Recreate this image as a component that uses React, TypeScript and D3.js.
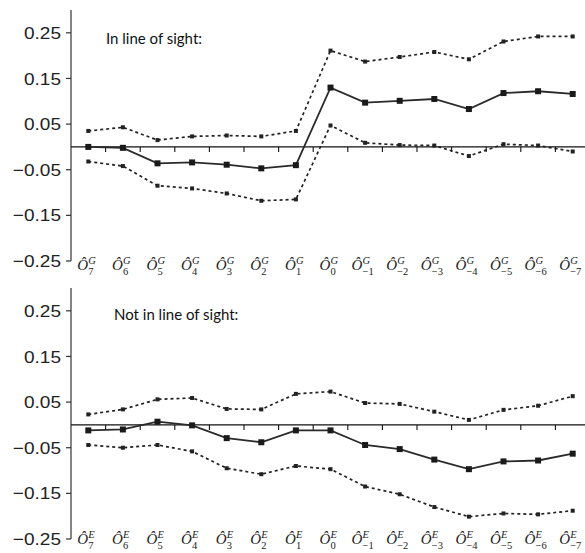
import React from "react";
import * as d3 from "d3";

const subscripts = ["7", "6", "5", "4", "3", "2", "1", "0", "−1", "−2", "−3", "−4", "−5", "−6", "−7"];
const yTickValues = [-0.25, -0.15, -0.05, 0.05, 0.15, 0.25];
const yTickLabels = ["−0.25", "−0.15", "−0.05", "0.05", "0.15", "0.25"];

const losMid = [0.0, -0.002, -0.036, -0.034, -0.039, -0.047, -0.04, 0.13, 0.097, 0.101, 0.105, 0.083, 0.118, 0.122, 0.116];
const losUpper = [0.035, 0.043, 0.015, 0.023, 0.025, 0.023, 0.035, 0.211, 0.187, 0.197, 0.208, 0.192, 0.231, 0.242, 0.242];
const losLower = [-0.032, -0.042, -0.085, -0.091, -0.102, -0.118, -0.115, 0.047, 0.009, 0.004, 0.003, -0.02, 0.006, 0.003, -0.01];

const nlosMid = [-0.012, -0.01, 0.007, -0.001, -0.029, -0.038, -0.012, -0.012, -0.044, -0.053, -0.076, -0.097, -0.08, -0.078, -0.063];
const nlosUpper = [0.023, 0.034, 0.056, 0.059, 0.035, 0.034, 0.068, 0.073, 0.048, 0.046, 0.029, 0.011, 0.033, 0.042, 0.063];
const nlosLower = [-0.044, -0.05, -0.044, -0.058, -0.095, -0.108, -0.09, -0.097, -0.135, -0.152, -0.18, -0.201, -0.194, -0.196, -0.188];

const INK = "#222";

type PanelProps = {
  yTop: number;
  yBottom: number;
  labelOffset: number;
  title: string;
  titleX: number;
  titleY: number;
  sup: string;
  mid: number[];
  upper: number[];
  lower: number[];
};

function Panel({ yTop, yBottom, labelOffset, title, titleX, titleY, sup, mid, upper, lower }: PanelProps) {
  const axisX = 71;
  const x = d3.scalePoint<string>().domain(subscripts).range([axisX, 590]).padding(0.5);
  const y = d3.scaleLinear().domain([-0.25, 0.3]).range([yBottom, yTop]);
  const step = x.step();
  const line = d3
    .line<number>()
    .x((_, i) => x(subscripts[i]) as number)
    .y((d) => y(d));
  const y0 = y(0);

  const dotted = (vals: number[], key: string) => (
    <g key={key}>
      <path d={line(vals) || ""} fill="none" stroke={INK} strokeWidth={1.7} strokeDasharray="3 3" />
      {vals.map((v, i) => (
        <rect key={i} x={(x(subscripts[i]) as number) - 2} y={y(v) - 2} width={4} height={4} fill={INK} />
      ))}
    </g>
  );

  return (
    <g>
      {/* y axis */}
      <line x1={axisX} x2={axisX} y1={y(0.3)} y2={y(-0.25)} stroke="#333" strokeWidth={1.2} />
      {yTickValues.map((t, i) => (
        <g key={t}>
          <line x1={axisX - 5} x2={axisX} y1={y(t)} y2={y(t)} stroke="#333" strokeWidth={1.2} />
          <text
            transform={`translate(${axisX - 10},${y(t)}) scale(1.12,1)`}
            dy="0.36em"
            textAnchor="end"
            fontFamily="'Liberation Sans', Arial, sans-serif"
            fontSize={17}
            fill="#222"
          >
            {yTickLabels[i]}
          </text>
        </g>
      ))}
      {/* zero line */}
      <line x1={axisX} x2={585} y1={y0} y2={y0} stroke="#111" strokeWidth={1.2} />
      {subscripts.slice(0, subscripts.length - 1).map((s) => {
        const tx = (x(s) as number) + step / 2;
        return <line key={"t" + s} x1={tx} x2={tx} y1={y0} y2={y0 + 5} stroke="#111" strokeWidth={1.1} />;
      })}
      {/* title */}
      <text x={titleX} y={titleY} fontFamily="Lato, 'Open Sans', sans-serif" fontSize={15} fill="#111">
        {title}
      </text>
      {/* series */}
      {dotted(upper, "up")}
      {dotted(lower, "lo")}
      <path d={line(mid) || ""} fill="none" stroke="#2a2a2a" strokeWidth={1.8} />
      {mid.map((v, i) => (
        <rect key={i} x={(x(subscripts[i]) as number) - 3} y={y(v) - 3} width={6} height={6} fill="#1a1a1a" />
      ))}
      {/* x labels */}
      {subscripts.map((s) => {
        const cx = x(s) as number;
        const subW = s.length > 1 ? 13 : 6;
        const scriptW = Math.max(8, subW);
        const total = 11 + scriptW;
        const start = cx - total / 2 - 1.5;
        const base = yBottom + labelOffset;
        return (
          <g key={"l" + s} fontFamily="'Liberation Serif', 'Times New Roman', serif" fill="#222">
            <text x={start} y={base} fontSize={15} fontStyle="italic">
              Ô
            </text>
            <text x={start + 11} y={base - 6.5} fontSize={10.5} fontStyle="italic">
              {sup}
            </text>
            <text x={start + 11} y={base + 4.5} fontSize={10.5}>
              {s}
            </text>
          </g>
        );
      })}
    </g>
  );
}

export default function App() {
  return (
    <svg
      width={585}
      height={553}
      viewBox="0 0 585 553"
      style={{ position: "absolute", left: 0, top: 0, background: "#fff" }}
    >
      <rect width={585} height={553} fill="#fff" />
      <Panel
        yTop={10}
        yBottom={261}
        labelOffset={9}
        title="In line of sight:"
        titleX={106}
        titleY={44}
        sup="G"
        mid={losMid}
        upper={losUpper}
        lower={losLower}
      />
      <Panel
        yTop={288}
        yBottom={539}
        labelOffset={5}
        title="Not in line of sight:"
        titleX={114}
        titleY={320}
        sup="E"
        mid={nlosMid}
        upper={nlosUpper}
        lower={nlosLower}
      />
    </svg>
  );
}
